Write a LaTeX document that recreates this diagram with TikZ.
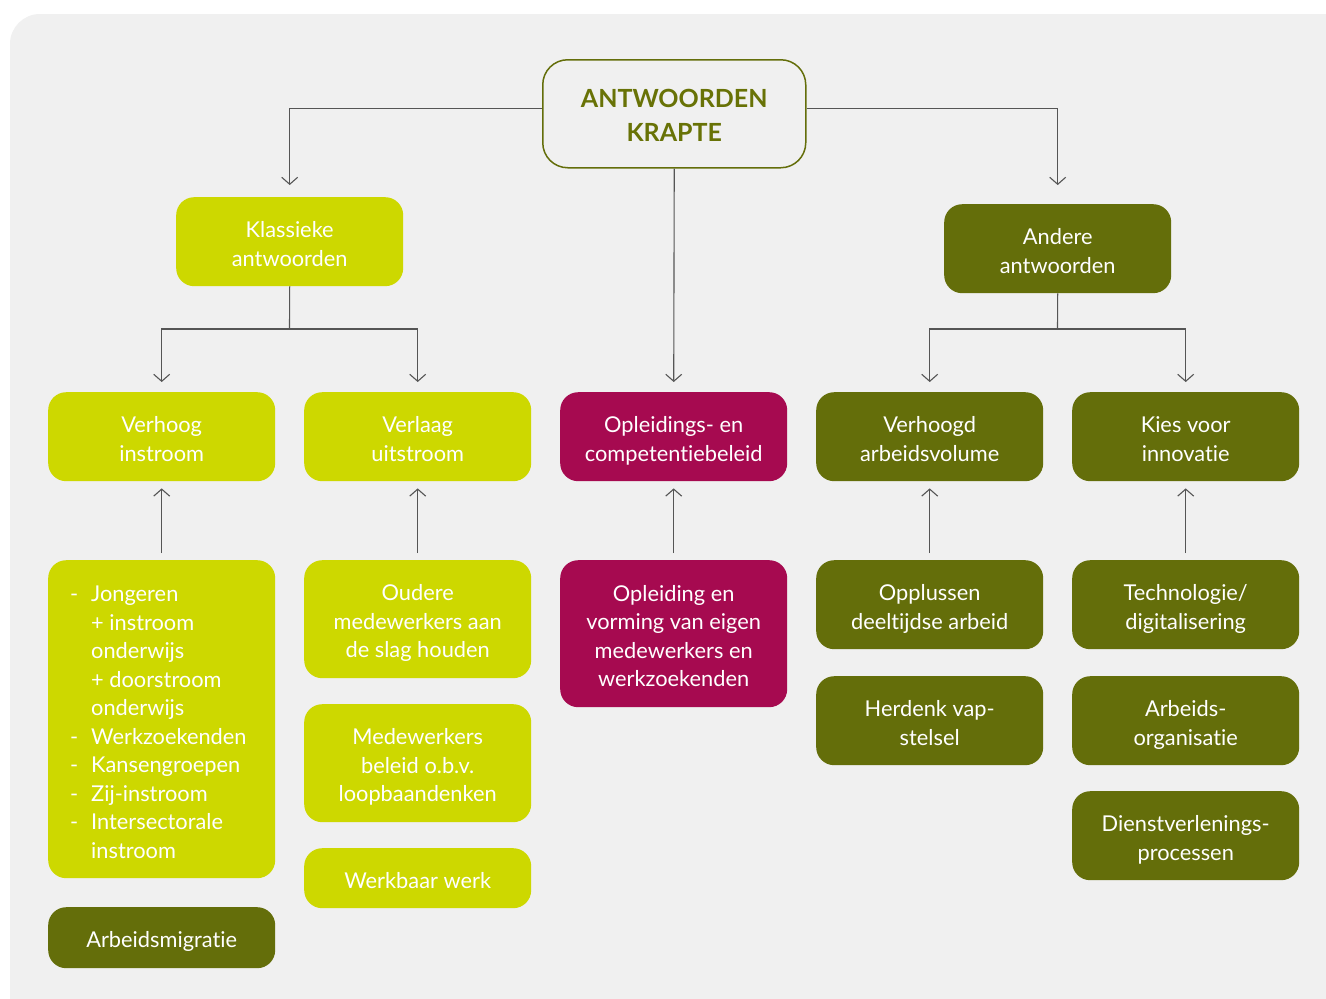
\documentclass[tikz,border=0pt]{standalone}
\usepackage{fontspec}
\setmainfont{Lato}[Ligatures=NoCommon]
\usetikzlibrary{arrows.meta}
\definecolor{lime}{RGB}{205,216,0}
\definecolor{olivebox}{RGB}{100,110,10}
\definecolor{magbox}{RGB}{166,10,80}
\definecolor{panel}{RGB}{240,240,240}
\definecolor{linec}{RGB}{85,85,85}
\definecolor{titlec}{RGB}{104,114,6}
\newcommand\boxtxt[2][4.5pt]{\raisebox{-#1}[\height][\depth]{\begin{tabular}{@{}c@{}}#2\end{tabular}}}
\begin{document}
\begin{tikzpicture}[x=1pt,y=-1pt,
  box/.style={rounded corners=18pt, minimum width=227pt, inner sep=0pt,
    text=white, font=\fontsize{21.8}{28.5}\selectfont, anchor=north west},
  lbox/.style={box, fill=lime},
  obox/.style={box, fill=olivebox},
  mbox/.style={box, fill=magbox},
  conn/.style={draw=linec, line width=1.1pt},
  arr/.style={conn, -{Straight Barb[length=7pt,width=16pt]}}]
\useasboundingbox (0,0) rectangle (1326,999);
\clip (0,0) rectangle (1326,999);
\fill[white] (0,0) rectangle (1326,999);
\fill[panel, rounded corners=30pt] (10,14) rectangle (1380,1050);

% title
\node[draw=olivebox, line width=1.5pt, fill=panel, rounded corners=25pt,
  minimum width=263pt, minimum height=108pt, anchor=north west, inner sep=0pt,
  font=\bfseries\fontsize{25}{34}\selectfont, text=titlec]
  (top) at (542,59) {\boxtxt[4pt]{ANTWOORDEN\\KRAPTE}};

% level 1
\node[lbox, minimum height=89pt] (klass) at (176,197) {\boxtxt{Klassieke\\antwoorden}};
\node[obox, minimum height=89pt] (andere) at (944,204) {\boxtxt{Andere\\antwoorden}};

% level 2
\node[lbox, minimum height=89pt] (vi) at (48,392) {\boxtxt{Verhoog\\instroom}};
\node[lbox, minimum height=89pt] (vu) at (304,392) {\boxtxt{Verlaag\\uitstroom}};
\node[mbox, minimum height=89pt] (opl) at (560,392) {\boxtxt{Opleidings- en\\competentiebeleid}};
\node[obox, minimum height=89pt] (va) at (816,392) {\boxtxt{Verhoogd\\arbeidsvolume}};
\node[obox, minimum height=89pt] (ki) at (1072,392) {\boxtxt{Kies voor\\innovatie}};

% level 3
\node[lbox, minimum height=318pt] (jong) at (48,560)
  {\raisebox{-5pt}[\height][\depth]{\begin{tabular}{@{\hspace{22pt}}p{21pt}@{}p{184pt}@{}}
   - & Jongeren\\
     & + instroom\\
     & onderwijs\\
     & + doorstroom\\
     & onderwijs\\
   - & Werkzoekenden\\
   - & Kansengroepen\\
   - & Zij-instroom\\
   - & Intersectorale\\
     & instroom
   \end{tabular}}};
\node[obox, minimum height=61pt] (migr) at (48,907) {\boxtxt{Arbeidsmigratie}};

\node[lbox, minimum height=118pt] (oud) at (304,560) {\boxtxt{Oudere\\medewerkers aan\\de slag houden}};
\node[lbox, minimum height=118pt] (mede) at (304,704) {\boxtxt{Medewerkers\\beleid o.b.v.\\loopbaandenken}};
\node[lbox, minimum height=60pt] (werk) at (304,848) {\boxtxt{Werkbaar werk}};

\node[mbox, minimum height=147pt] (eigen) at (560,560) {\boxtxt{Opleiding en\\vorming van eigen\\medewerkers en\\werkzoekenden}};

\node[obox, minimum height=89pt] (opp) at (816,560) {\boxtxt{Opplussen\\deeltijdse arbeid}};
\node[obox, minimum height=89pt] (vap) at (816,676) {\boxtxt{Herdenk vap-\\stelsel}};

\node[obox, minimum height=89pt] (tech) at (1072,560) {\boxtxt{Technologie/\\digitalisering}};
\node[obox, minimum height=89pt] (org) at (1072,676) {\boxtxt{Arbeids-\\organisatie}};
\node[obox, minimum height=89pt] (dienst) at (1072,791) {\boxtxt{Dienstverlenings-\\processen}};

% connectors from title
\draw[arr, shorten >=12pt] ([yshift=5pt]top.west) -| (klass.north);
\draw[arr, shorten >=19pt] ([yshift=5pt]top.east) -| (andere.north);
\draw[arr, shorten >=10pt] (top.south) -- (opl.north);

% klassieke branches
\coordinate (kj) at (289.5,329);
\draw[conn] (klass.south) -- (kj);
\draw[arr, shorten >=10pt] (kj) -| (vi.north);
\draw[arr, shorten >=10pt] (kj) -| (vu.north);

% andere branches
\coordinate (aj) at (1057.5,329);
\draw[conn] (andere.south) -- (aj);
\draw[arr, shorten >=10pt] (aj) -| (va.north);
\draw[arr, shorten >=10pt] (aj) -| (ki.north);

% upward arrows
\draw[arr, shorten <=7pt, shorten >=7pt] (jong.north) -- (vi.south);
\draw[arr, shorten <=7pt, shorten >=7pt] (oud.north) -- (vu.south);
\draw[arr, shorten <=7pt, shorten >=7pt] (eigen.north) -- (opl.south);
\draw[arr, shorten <=7pt, shorten >=7pt] (opp.north) -- (va.south);
\draw[arr, shorten <=7pt, shorten >=7pt] (tech.north) -- (ki.south);
\end{tikzpicture}
\end{document}
